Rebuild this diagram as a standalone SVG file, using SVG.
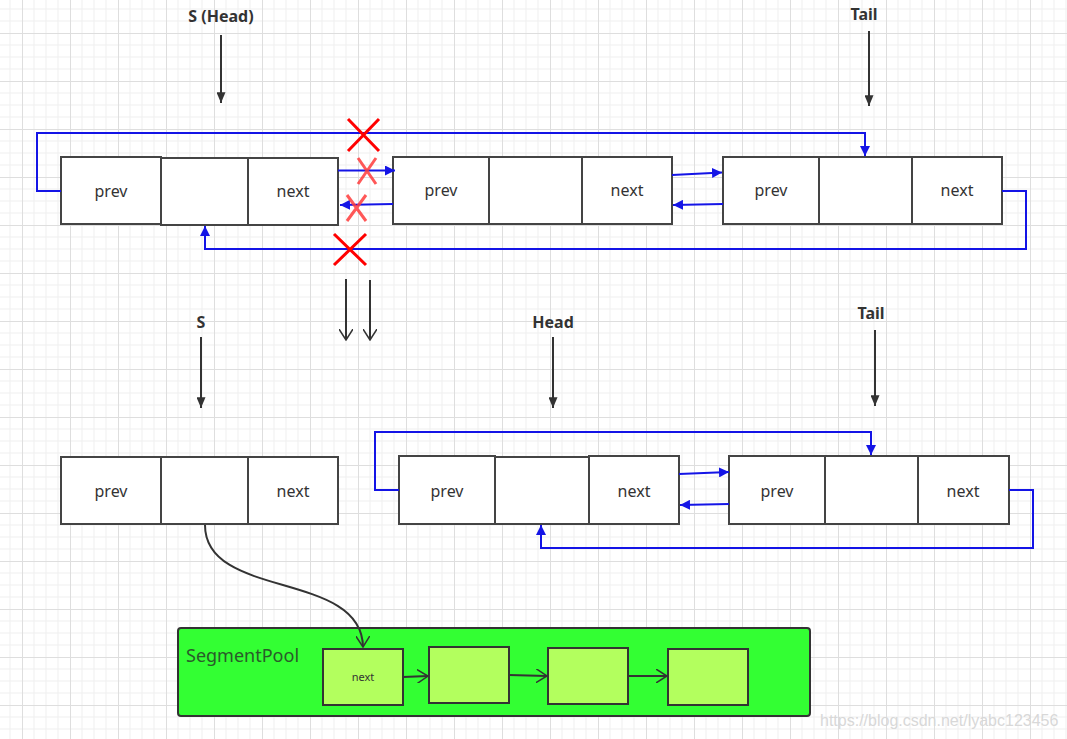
<svg xmlns="http://www.w3.org/2000/svg" width="1067" height="739" viewBox="0 0 1067 739">
<defs>
<pattern id="grid" patternUnits="userSpaceOnUse" x="22" y="33" width="48" height="48">
<path d="M12,0V48M24,0V48M36,0V48M0,12H48M0,24H48M0,36H48" stroke="#efefef" stroke-width="1" fill="none"/>
<path d="M0.5,0V48M0,0.5H48" stroke="#dedede" stroke-width="1" fill="none"/>
</pattern>
<marker id="ab" viewBox="0 0 10 10" refX="10" refY="5" markerWidth="10" markerHeight="10" markerUnits="userSpaceOnUse" orient="auto">
<path d="M0,0L10,5L0,10Z" fill="#1414e6"/>
</marker>
<marker id="ak" viewBox="0 0 12 10" refX="12" refY="5" markerWidth="13" markerHeight="9" markerUnits="userSpaceOnUse" orient="auto">
<path d="M0,0L12,5L0,10Z" fill="#333"/>
</marker>
<marker id="ao" viewBox="0 0 12 14" refX="11" refY="7" markerWidth="12" markerHeight="14" markerUnits="userSpaceOnUse" orient="auto">
<path d="M0,0L11,7L0,14" fill="none" stroke="#333" stroke-width="1.5"/>
</marker>
<style>
.box{fill:#fff;stroke:#444;stroke-width:2}
.t{font-family:"Noto Sans","Open Sans","Liberation Sans",sans-serif;font-size:16px;fill:#333;text-anchor:middle}
.lb{font-family:"Noto Sans","Open Sans","Liberation Sans",sans-serif;font-size:16px;font-weight:bold;fill:#333;text-anchor:middle}
.bl{fill:none;stroke:#1414e6;stroke-width:2}
.bk{fill:none;stroke:#333;stroke-width:2}
.rx{fill:none;stroke:#ff0000;stroke-width:3}
.rx2{fill:none;stroke:#ff3b3b;stroke-width:3;opacity:0.85}
.sb{fill:#b3ff5e;stroke:#333;stroke-width:2}
</style>
</defs>
<rect width="1067" height="739" fill="#fff"/>
<rect width="1067" height="739" fill="url(#grid)"/>

<g id="label-s-head"><text class="lb" x="221" y="22">S (Head)</text></g>
<g id="label-tail-top"><text class="lb" x="864" y="20">Tail</text></g>
<g id="label-s"><text class="lb" x="201" y="328">S</text></g>
<g id="label-head"><text class="lb" x="553" y="328">Head</text></g>
<g id="label-tail-bottom"><text class="lb" x="871" y="319">Tail</text></g>

<g id="node-top-1">
<rect class="box" x="61" y="157" width="100" height="67"/>
<rect class="box" x="161" y="158" width="87" height="67"/>
<rect class="box" x="248" y="158" width="90" height="67"/>
<text class="t" x="111" y="197">prev</text>
<text class="t" x="293" y="197">next</text>
</g>
<g id="node-top-2">
<rect class="box" x="393" y="157" width="96" height="67"/>
<rect class="box" x="489" y="157" width="93" height="67"/>
<rect class="box" x="582" y="157" width="90" height="67"/>
<text class="t" x="441" y="196">prev</text>
<text class="t" x="627" y="196">next</text>
</g>
<g id="node-top-3">
<rect class="box" x="723" y="157" width="96" height="67"/>
<rect class="box" x="819" y="157" width="93" height="67"/>
<rect class="box" x="912" y="157" width="90" height="67"/>
<text class="t" x="771" y="196">prev</text>
<text class="t" x="957" y="196">next</text>
</g>

<g id="node-bottom-s">
<rect class="box" x="61" y="457" width="100" height="67"/>
<rect class="box" x="161" y="457" width="87" height="67"/>
<rect class="box" x="248" y="457" width="90" height="67"/>
<text class="t" x="111" y="497">prev</text>
<text class="t" x="293" y="497">next</text>
</g>
<g id="node-bottom-head">
<rect class="box" x="399" y="456" width="96" height="68"/>
<rect class="box" x="495" y="457" width="94" height="67"/>
<rect class="box" x="589" y="456" width="90" height="68"/>
<text class="t" x="447" y="497">prev</text>
<text class="t" x="634" y="497">next</text>
</g>
<g id="node-bottom-tail">
<rect class="box" x="729" y="456" width="96" height="68"/>
<rect class="box" x="825" y="456" width="93" height="68"/>
<rect class="box" x="918" y="456" width="91" height="68"/>
<text class="t" x="777" y="497">prev</text>
<text class="t" x="963" y="497">next</text>
</g>

<g id="segment-pool">
<rect x="178" y="628" width="632" height="88" rx="3" fill="#33ff33" stroke="#333" stroke-width="2"/>
<text x="186" y="662" font-family="Noto Sans,Open Sans,Liberation Sans,sans-serif" font-size="18" fill="#2a5a2a">SegmentPool</text>
</g>
<g id="pool-seg-1">
<rect class="sb" x="323" y="649" width="80" height="56"/>
<text x="363" y="681" font-family="Noto Sans,Open Sans,Liberation Sans,sans-serif" font-size="11" fill="#333" text-anchor="middle">next</text>
</g>
<g id="pool-seg-2"><rect class="sb" x="429" y="647" width="80" height="56"/></g>
<g id="pool-seg-3"><rect class="sb" x="548" y="648" width="80" height="56"/></g>
<g id="pool-seg-4"><rect class="sb" x="668" y="649" width="80" height="56"/></g>

<g id="connectors">
<path class="bk" d="M221,35V103" marker-end="url(#ak)"/>
<path class="bk" d="M869,31V106" marker-end="url(#ak)"/>
<path class="bk" d="M201,337V408" marker-end="url(#ak)"/>
<path class="bk" d="M553,337V408" marker-end="url(#ak)"/>
<path class="bk" d="M875,330V406" marker-end="url(#ak)"/>

<path class="bl" d="M61,191H37V133H865V156" marker-end="url(#ab)"/>
<path class="bl" d="M1002,191H1026V249H205V226" marker-end="url(#ab)"/>
<path class="bl" d="M338,170.5H395" marker-end="url(#ab)"/>
<path class="bl" d="M393,204L340,205" marker-end="url(#ab)"/>
<path class="bl" d="M672,175L722,172.5" marker-end="url(#ab)"/>
<path class="bl" d="M723,204L673,205" marker-end="url(#ab)"/>

<path class="bl" d="M399,490H375V432H871V455" marker-end="url(#ab)"/>
<path class="bl" d="M1009,490H1033V548H541V525" marker-end="url(#ab)"/>
<path class="bl" d="M679,474L729,472" marker-end="url(#ab)"/>
<path class="bl" d="M729,504L680,505" marker-end="url(#ab)"/>

<path class="bk" d="M346,279V340" marker-end="url(#ao)"/>
<path class="bk" d="M370,280V340" marker-end="url(#ao)"/>

<path class="bk" d="M205,525C205,600 362,570 363,647" marker-end="url(#ao)"/>
<path class="bk" d="M403,677L428,676" marker-end="url(#ao)"/>
<path class="bk" d="M509,675L547,676" marker-end="url(#ao)"/>
<path class="bk" d="M628,676H667" marker-end="url(#ao)"/>

<path class="rx" d="M348,119L379,151M379,119L348,151"/>
<path class="rx2" d="M358,158L376,184M376,158L358,184"/>
<path class="rx2" d="M347,195L366,221M366,195L347,221"/>
<path class="rx" d="M334,234L366,265M366,234L334,265"/>
</g>

<text x="820" y="726" font-family="Liberation Sans,Arial,sans-serif" font-size="16" fill="#d8d8d8">https://blog.csdn.net/lyabc123456</text>
</svg>
